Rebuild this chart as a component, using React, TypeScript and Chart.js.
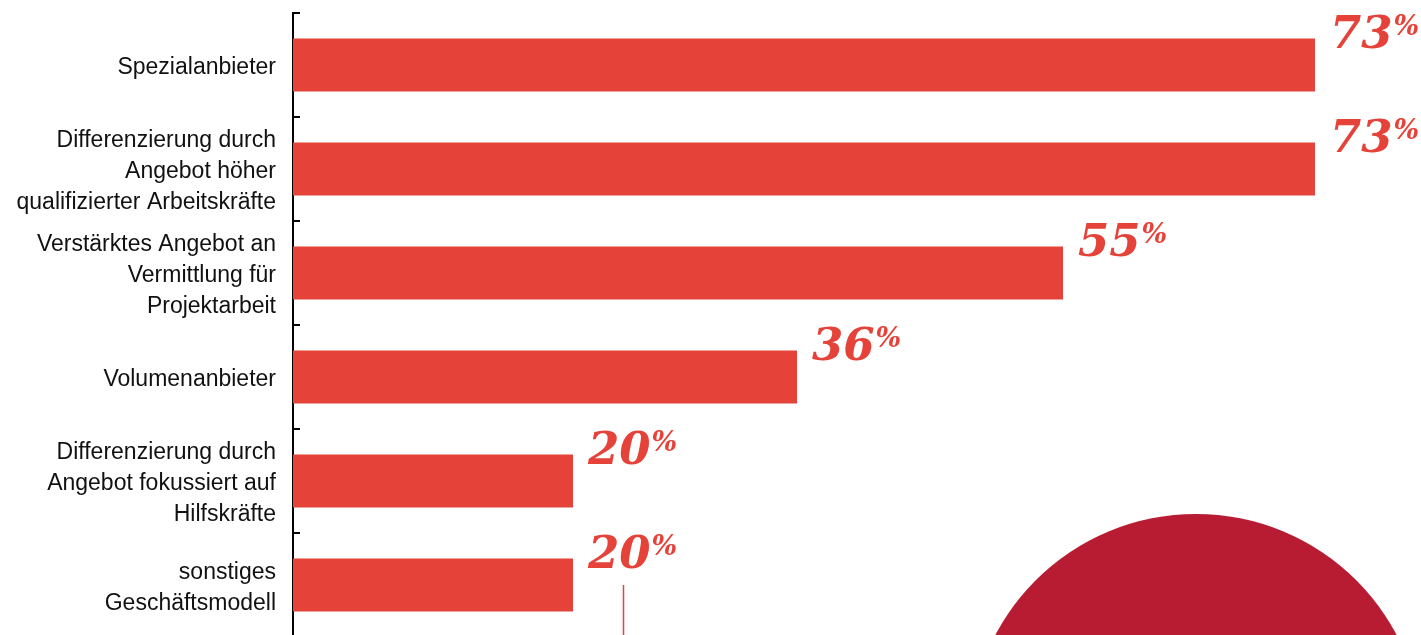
import React, { useEffect, useRef } from "react";
import { Chart, registerables } from "chart.js";

Chart.register(...registerables);

const categories: string[][] = [
  ["Spezialanbieter"],
  ["Differenzierung durch", "Angebot höher", "qualifizierter Arbeitskräfte"],
  ["Verstärktes Angebot an", "Vermittlung für", "Projektarbeit"],
  ["Volumenanbieter"],
  ["Differenzierung durch", "Angebot fokussiert auf", "Hilfskräfte"],
  ["sonstiges", "Geschäftsmodell"],
];
const values: number[] = [73, 73, 55, 36, 20, 20];

const RED = "#E5433A";
const DARK_RED = "#B71C32";

const decorPlugin = {
  id: "decor",
  beforeDatasetsDraw(chart: any) {
    const ctx = chart.ctx;
    ctx.save();
    ctx.fillStyle = DARK_RED;
    ctx.beginPath();
    ctx.arc(1196, 741, 227, 0, Math.PI * 2);
    ctx.fill();
    ctx.strokeStyle = RED;
    ctx.lineWidth = 1.5;
    ctx.beginPath();
    ctx.moveTo(623.5, 585);
    ctx.lineTo(623.5, 640);
    ctx.stroke();
    ctx.restore();
  },
  afterDraw(chart: any) {
    const ctx = chart.ctx;
    const y = chart.scales.y;
    const n = chart.data.labels.length;
    const band = (y.bottom - y.top) / n;
    ctx.save();
    ctx.strokeStyle = "#000";
    ctx.lineWidth = 2;
    for (let i = 0; i <= n; i++) {
      const py = y.top + i * band;
      ctx.beginPath();
      ctx.moveTo(y.right - 1, py);
      ctx.lineTo(y.right + 7, py);
      ctx.stroke();
    }
    const meta = chart.getDatasetMeta(0);
    meta.data.forEach((bar: any, i: number) => {
      const v = chart.data.datasets[0].data[i];
      const x = bar.x + 15;
      const base = bar.y - 17;
      ctx.fillStyle = RED;
      ctx.textBaseline = "alphabetic";
      ctx.textAlign = "left";
      ctx.font = "italic bold 45px 'DejaVu Serif'";
      const s = String(v);
      ctx.fillText(s, x, base);
      const w = ctx.measureText(s).width;
      ctx.font = "italic bold 27px 'DejaVu Serif'";
      ctx.fillText("%", x + w + 1, base - 13);
    });
    ctx.restore();
  },
};

export default function App() {
  const ref = useRef<HTMLCanvasElement | null>(null);
  useEffect(() => {
    if (!ref.current) return;
    const chart = new Chart(ref.current, {
      type: "bar",
      data: {
        labels: categories,
        datasets: [
          {
            data: values,
            backgroundColor: RED,
            borderWidth: 0,
            barPercentage: 0.51,
            categoryPercentage: 1,
          },
        ],
      },
      options: {
        indexAxis: "y",
        animation: false,
        responsive: false,
        maintainAspectRatio: false,
        layout: { padding: { top: 13, bottom: 13, right: 8, left: 0 } },
        plugins: { legend: { display: false }, tooltip: { enabled: false } },
        scales: {
          x: { display: false, min: 0, max: 80 },
          y: {
            afterFit: (s: any) => {
              s.width = 293;
              s.paddingTop = 0;
              s.paddingBottom = 0;
            },
            grid: { display: false, drawTicks: false, tickLength: 0 },
            border: { display: true, color: "#000", width: 2 },
            ticks: {
              color: "#111",
              padding: 17,
              labelOffset: 3,
              font: { family: "'Liberation Sans', Arial, sans-serif", size: 23, lineHeight: 1.35 },
            },
          },
        },
      },
      plugins: [decorPlugin],
    });
    return () => chart.destroy();
  }, []);
  return (
    <div
      style={{
        position: "fixed",
        left: 0,
        top: 0,
        width: 1421,
        height: 635,
        overflow: "hidden",
        background: "#fff",
      }}
    >
      <canvas ref={ref} width={1421} height={650} style={{ display: "block" }} />
    </div>
  );
}
